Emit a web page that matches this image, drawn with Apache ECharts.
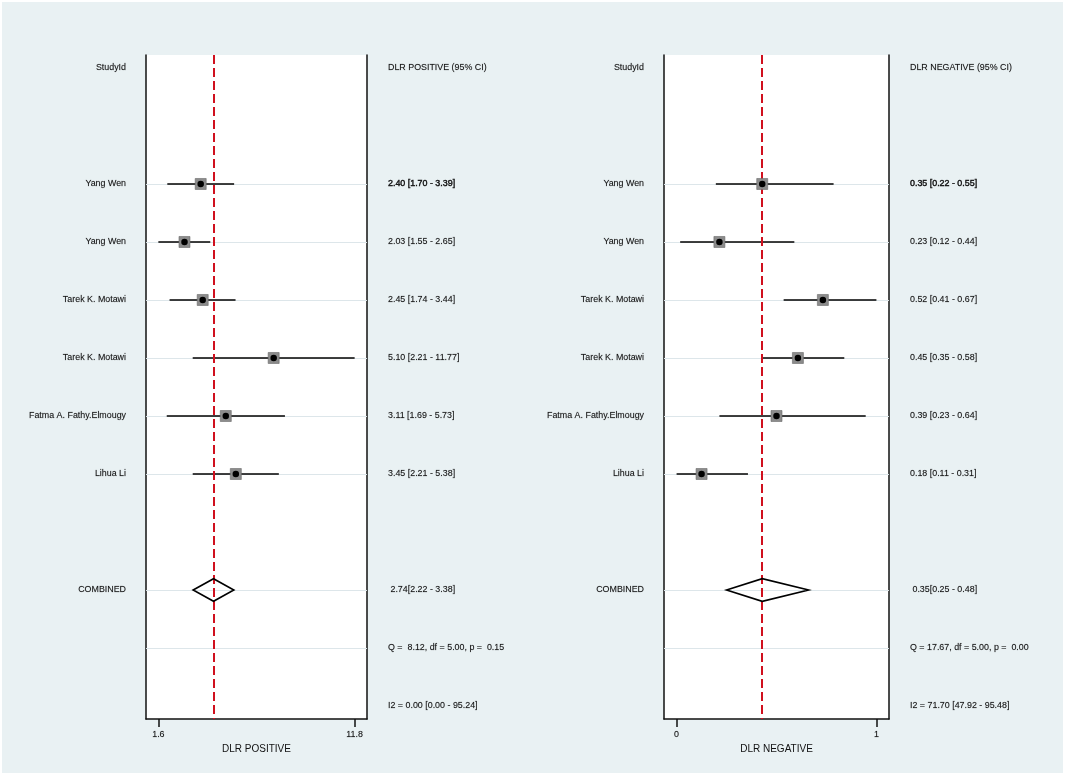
<!DOCTYPE html>
<html>
<head>
<meta charset="utf-8">
<script src="https://cdn.jsdelivr.net/npm/echarts@6/dist/echarts.min.js"></script>
<style>
  html, body { margin: 0; padding: 0; background: #fff; }
  #chart { position: absolute; left: 2px; top: 2px; width: 1061px; height: 771px; }
</style>
</head>
<body>
<div id="chart"></div>
<script>
// study labels (same order in both panels)
const studies = ['Yang Wen', 'Yang Wen', 'Tarek K. Motawi', 'Tarek K. Motawi', 'Fatma A. Fathy.Elmougy', 'Lihua Li'];

// DLR positive
const posEst = [2.40, 2.03, 2.45, 5.10, 3.11, 3.45];
const posLo = [1.70, 1.55, 1.74, 2.21, 1.69, 2.21];
const posHi = [3.39, 2.65, 3.44, 11.77, 5.73, 5.38];
const posPooled = [2.74, 2.22, 3.38];   // est, lo, hi
const posQ = [8.12, 5.00, 0.15];        // Q, df, p
const posI2 = [0.00, 0.00, 95.24];      // I2, lo, hi

// DLR negative
const negEst = [0.35, 0.23, 0.52, 0.45, 0.39, 0.18];
const negLo = [0.22, 0.12, 0.41, 0.35, 0.23, 0.11];
const negHi = [0.55, 0.44, 0.67, 0.58, 0.64, 0.31];
const negPooled = [0.35, 0.25, 0.48];
const negQ = [17.67, 5.00, 0.00];
const negI2 = [71.70, 47.92, 95.48];

// row layout of the table
const HEADER_ROW = 0, FIRST_ROW = 2, POOLED_ROW = 9, Q_ROW = 10, I2_ROW = 11;
const ROW_PAD = 0.224;
const X_PAD = 0.063;
const DIAMOND_H = 0.195;
const FONT = "'Liberation Sans', Arial, sans-serif";
const INK = '#111';

const f2 = v => v.toFixed(2);
const pad5 = v => f2(v).padStart(5, ' ');

function panel(i, cfg) {
  const rows = cfg.est.map((_, k) => FIRST_ROW + k);

  const leftText = { [HEADER_ROW]: 'StudyId', [POOLED_ROW]: 'COMBINED' };
  const rightText = { [HEADER_ROW]: cfg.title + ' (95% CI)' };
  rows.forEach((r, k) => {
    leftText[r] = studies[k];
    rightText[r] = f2(cfg.est[k]) + ' [' + f2(cfg.lo[k]) + ' - ' + f2(cfg.hi[k]) + ']';
  });
  rightText[POOLED_ROW] = ' ' + f2(cfg.pooled[0]) + '[' + f2(cfg.pooled[1]) + ' - ' + f2(cfg.pooled[2]) + ']';
  rightText[Q_ROW] = 'Q = ' + pad5(cfg.q[0]) + ', df = ' + f2(cfg.q[1]) + ', p = ' + pad5(cfg.q[2]);
  rightText[I2_ROW] = 'I2 = ' + f2(cfg.i2[0]) + ' [' + f2(cfg.i2[1]) + ' - ' + f2(cfg.i2[2]) + ']';

  const tMin = Math.min(...cfg.lo), tMax = Math.max(...cfg.hi);
  let xMin, xMax;
  if (cfg.log) {
    const a = Math.log(tMin), b = Math.log(tMax), d = (b - a) * X_PAD;
    xMin = Math.exp(a - d); xMax = Math.exp(b + d);
  } else {
    const d = (tMax - tMin) * X_PAD;
    xMin = tMin - d; xMax = tMax + d;
  }

  const labelStyle = { fontFamily: FONT, fontSize: 8.9, color: INK, textBorderColor: 'rgba(17,17,17,0.35)', textBorderWidth: 0.3 };
  const edge = { show: true, onZero: false, lineStyle: { color: INK, width: 1.5 } };
  const yBase = {
    gridIndex: i, type: 'value', inverse: true,
    min: -ROW_PAD, max: I2_ROW + ROW_PAD,
    axisLine: edge, axisTick: { show: false }, splitLine: { show: false }
  };

  const grid = { left: cfg.left, top: 53, width: cfg.width, height: 664, show: true, backgroundColor: '#fff', borderWidth: 0 };

  const xAxis = {
    gridIndex: i, type: cfg.log ? 'log' : 'value', min: xMin, max: xMax,
    name: cfg.title, nameLocation: 'middle', nameGap: 20,
    nameTextStyle: { fontFamily: FONT, fontSize: 10, color: INK },
    axisLine: edge,
    axisTick: { show: true, customValues: [tMin, tMax], length: 8, lineStyle: { color: INK, width: 1.5 } },
    axisLabel: Object.assign({ customValues: [tMin, tMax], margin: 11, formatter: v => (+v).toFixed(cfg.digits) }, labelStyle),
    splitLine: { show: false }, minorTick: { show: false }
  };

  const yLeft = Object.assign({}, yBase, {
    position: 'left',
    axisLabel: Object.assign({
      customValues: Object.keys(leftText).map(Number), margin: 20,
      formatter: v => leftText[Math.round(v)] || ''
    }, labelStyle)
  });
  const yRight = Object.assign({}, yBase, {
    position: 'right',
    axisLabel: Object.assign({
      customValues: Object.keys(rightText).map(Number), margin: 21,
      formatter: v => {
        const r = Math.round(v);
        return r === FIRST_ROW ? '{b|' + rightText[r] + '}' : rightText[r];
      },
      rich: { b: { fontFamily: FONT, fontSize: 8.9, color: INK, textBorderColor: INK, textBorderWidth: 0.4 } }
    }, labelStyle)
  });

  const xi = i, yi = 2 * i;
  const series = [
    {
      type: 'custom', xAxisIndex: xi, yAxisIndex: yi, z: 3, silent: true,
      data: rows.map((r, k) => [cfg.lo[k], cfg.hi[k], r]),
      encode: { x: [0, 1], y: 2 },
      renderItem: (params, api) => {
        const a = api.coord([api.value(0), api.value(2)]);
        const b = api.coord([api.value(1), api.value(2)]);
        return { type: 'line', shape: { x1: a[0], y1: a[1], x2: b[0], y2: b[1] }, style: { stroke: '#000', lineWidth: 1.4 } };
      },
      markLine: {
        z: 1, silent: true, symbol: 'none', label: { show: false },
        lineStyle: { color: '#dde6ea', width: 1, type: 'solid' },
        data: rows.concat([POOLED_ROW, Q_ROW]).map(r => ({ yAxis: r }))
      }
    },
    {
      type: 'scatter', xAxisIndex: xi, yAxisIndex: yi, z: 5, silent: true,
      symbol: 'rect', symbolSize: 11,
      itemStyle: { color: '#8c8c8c', borderColor: '#6a6a6a', borderWidth: 0.6, opacity: 1 },
      data: rows.map((r, k) => [cfg.est[k], r]),
      markLine: {
        z: 4, silent: true, symbol: 'none', label: { show: false },
        lineStyle: { color: '#d0101e', width: 2, type: [9, 4] },
        data: [{ xAxis: cfg.pooled[0] }]
      }
    },
    {
      type: 'scatter', xAxisIndex: xi, yAxisIndex: yi, z: 6, silent: true,
      symbol: 'circle', symbolSize: 6.5,
      itemStyle: { color: '#000', opacity: 1 },
      data: rows.map((r, k) => [cfg.est[k], r])
    },
    {
      type: 'custom', xAxisIndex: xi, yAxisIndex: yi, z: 6, silent: true,
      data: [[cfg.pooled[1], cfg.pooled[0], cfg.pooled[2], POOLED_ROW]],
      encode: { x: [0, 1, 2], y: 3 },
      renderItem: (params, api) => {
        const r = api.value(3);
        const pts = [
          api.coord([api.value(0), r]),
          api.coord([api.value(1), r - DIAMOND_H]),
          api.coord([api.value(2), r]),
          api.coord([api.value(1), r + DIAMOND_H])
        ];
        return { type: 'polygon', shape: { points: pts }, style: { fill: 'none', stroke: '#000', lineWidth: 1.6 } };
      }
    }
  ];

  return { grid, xAxis, yAxes: [yLeft, yRight], series };
}

const panels = [
  panel(0, { title: 'DLR POSITIVE', est: posEst, lo: posLo, hi: posHi, pooled: posPooled, q: posQ, i2: posI2, log: true, digits: 1, left: 144, width: 221 }),
  panel(1, { title: 'DLR NEGATIVE', est: negEst, lo: negLo, hi: negHi, pooled: negPooled, q: negQ, i2: negI2, log: false, digits: 0, left: 662, width: 225 })
];

const chart = echarts.init(document.getElementById('chart'));
chart.setOption({
  backgroundColor: '#e9f1f3',
  animation: false,
  grid: panels.map(p => p.grid),
  xAxis: panels.map(p => p.xAxis),
  yAxis: panels.flatMap(p => p.yAxes),
  series: panels.flatMap(p => p.series)
});
</script>
</body>
</html>
